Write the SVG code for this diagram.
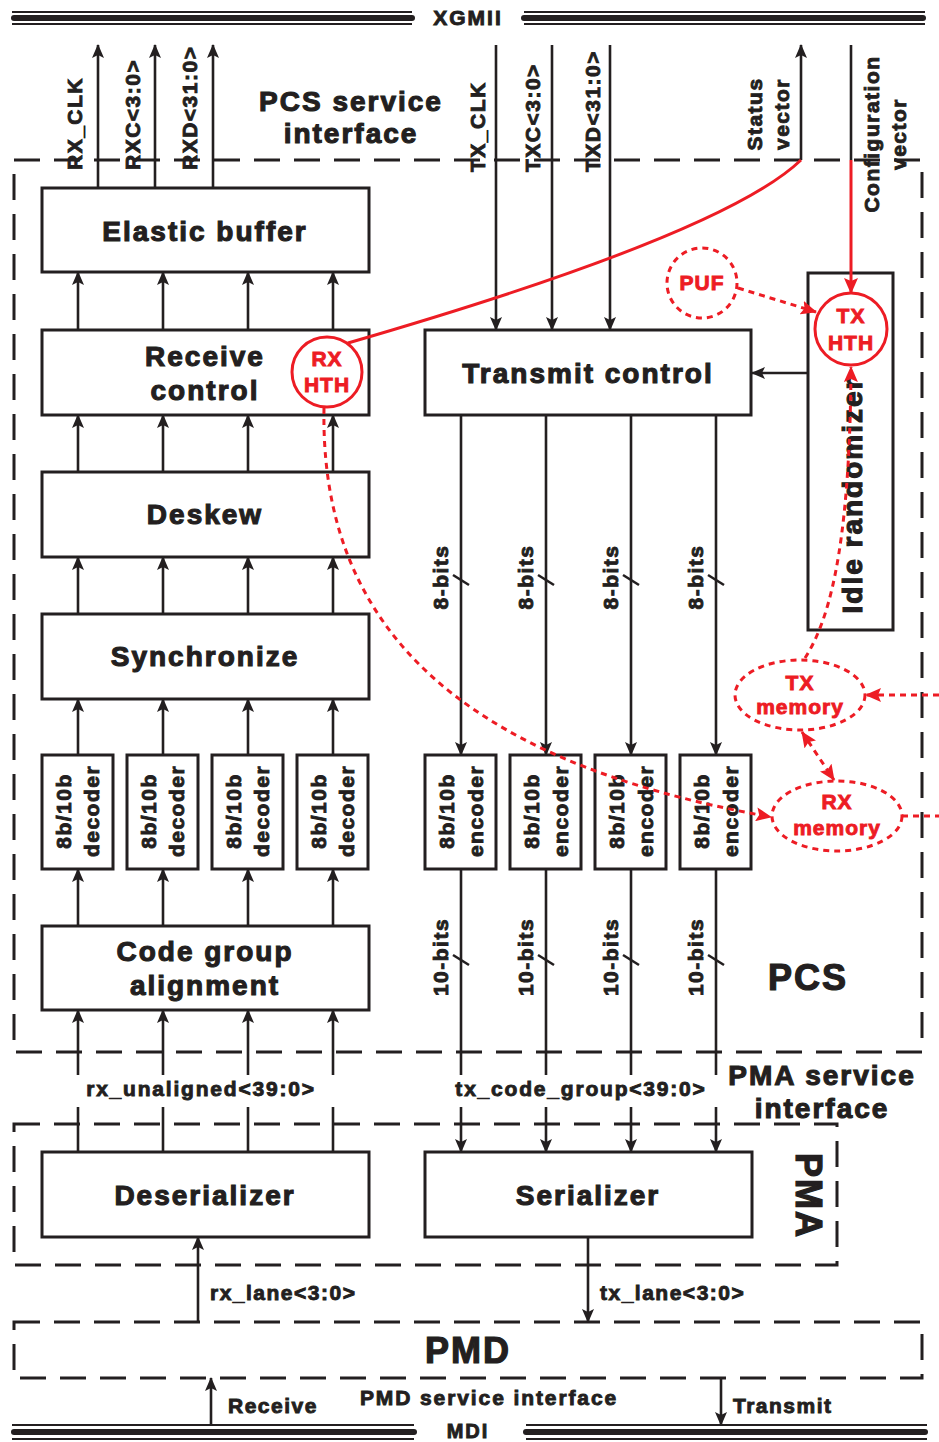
<svg xmlns="http://www.w3.org/2000/svg" width="939" height="1442" viewBox="0 0 939 1442">
<style>
.t{font-family:"Liberation Sans",Arial,sans-serif;font-weight:bold;fill:#231f20;stroke:#231f20;stroke-width:0.9;letter-spacing:2px}
.b{font-size:28px;text-anchor:middle;stroke-width:1.1}
.s{font-size:21px;letter-spacing:1.5px}
.r{fill:#ed1c24;stroke:#ed1c24}
.box{fill:#fff;stroke:#231f20;stroke-width:3}
.ln{stroke:#231f20;stroke-width:2.6;fill:none}
.dash{fill:none;stroke:#231f20;stroke-width:3;stroke-dasharray:26 14}
.rl{stroke:#ed1c24;stroke-width:3;fill:none}
.rd{stroke:#ed1c24;stroke-width:3;fill:none;stroke-dasharray:6 5}
.bus{stroke:#231f20;stroke-width:2}
.busk{stroke:#231f20;stroke-width:6;stroke-linecap:round}
</style>
<defs>
<marker id="ah" viewBox="0 0 14 12" refX="13" refY="6" markerWidth="14" markerHeight="12" markerUnits="userSpaceOnUse" orient="auto"><path d="M0,0 L14,6 L0,12 L3,6 z" fill="#231f20"/></marker>
<marker id="rh" viewBox="0 0 16 14" refX="15" refY="7" markerWidth="16" markerHeight="14" markerUnits="userSpaceOnUse" orient="auto"><path d="M0,0 L16,7 L0,14 L3,7 z" fill="#ed1c24"/></marker>
<marker id="rs" viewBox="0 0 16 14" refX="1" refY="7" markerWidth="16" markerHeight="14" markerUnits="userSpaceOnUse" orient="auto"><path d="M16,0 L0,7 L16,14 L13,7 z" fill="#ed1c24"/></marker>
</defs>
<rect width="939" height="1442" fill="#fff"/>

<!-- buses -->
<g id="xgmii">
<line class="bus" x1="12" y1="12" x2="412" y2="12"/><line class="busk" x1="14" y1="18" x2="412" y2="18"/><line class="bus" x1="12" y1="24" x2="412" y2="24"/>
<line class="bus" x1="524" y1="12" x2="925" y2="12"/><line class="busk" x1="524" y1="18" x2="923" y2="18"/><line class="bus" x1="524" y1="24" x2="925" y2="24"/>
<text class="t" x="468" y="25" font-size="21" text-anchor="middle">XGMII</text>
</g>
<g id="mdi">
<line class="bus" x1="12" y1="1425" x2="414" y2="1425"/><line class="busk" x1="14" y1="1432" x2="414" y2="1432"/><line class="bus" x1="12" y1="1439" x2="414" y2="1439"/>
<line class="bus" x1="526" y1="1425" x2="927" y2="1425"/><line class="busk" x1="526" y1="1432" x2="925" y2="1432"/><line class="bus" x1="526" y1="1439" x2="927" y2="1439"/>
<text class="t" x="468" y="1438" font-size="20" text-anchor="middle">MDI</text>
</g>

<!-- layer boundaries -->
<g id="pcs">
<rect class="dash" x="14" y="160" width="908" height="892"/>
<text class="t" x="808" y="990" font-size="36" text-anchor="middle" style="stroke-width:1.2">PCS</text>
</g>
<g id="pma">
<rect class="dash" x="14" y="1124" width="823" height="141"/>
<text class="t" transform="translate(796,1196) rotate(90)" font-size="36" text-anchor="middle" style="stroke-width:1.2">PMA</text>
</g>
<g id="pmd">
<rect class="dash" x="14" y="1322" width="908" height="56"/>
<text class="t" x="468" y="1363" font-size="36" text-anchor="middle" style="stroke-width:1.2">PMD</text>
</g>

<!-- connectors -->
<g id="connectors">
<g class="ln" marker-end="url(#ah)">
<line x1="98" y1="188" x2="98" y2="45"/><line x1="155" y1="188" x2="155" y2="45"/><line x1="213" y1="188" x2="213" y2="45"/>
<line x1="78" y1="330" x2="78" y2="272"/><line x1="163" y1="330" x2="163" y2="272"/><line x1="248" y1="330" x2="248" y2="272"/><line x1="333" y1="330" x2="333" y2="272"/>
<line x1="78" y1="472" x2="78" y2="415"/><line x1="163" y1="472" x2="163" y2="415"/><line x1="248" y1="472" x2="248" y2="415"/><line x1="333" y1="472" x2="333" y2="415"/>
<line x1="78" y1="614" x2="78" y2="557"/><line x1="163" y1="614" x2="163" y2="557"/><line x1="248" y1="614" x2="248" y2="557"/><line x1="333" y1="614" x2="333" y2="557"/>
<line x1="78" y1="755" x2="78" y2="699"/><line x1="163" y1="755" x2="163" y2="699"/><line x1="248" y1="755" x2="248" y2="699"/><line x1="333" y1="755" x2="333" y2="699"/>
<line x1="78" y1="926" x2="78" y2="869"/><line x1="163" y1="926" x2="163" y2="869"/><line x1="248" y1="926" x2="248" y2="869"/><line x1="333" y1="926" x2="333" y2="869"/>
<line x1="78" y1="1075" x2="78" y2="1010"/><line x1="163" y1="1075" x2="163" y2="1010"/><line x1="248" y1="1075" x2="248" y2="1010"/><line x1="333" y1="1075" x2="333" y2="1010"/>
<line x1="496" y1="45" x2="496" y2="330"/><line x1="552" y1="45" x2="552" y2="330"/><line x1="610" y1="45" x2="610" y2="330"/>
<line x1="461" y1="415" x2="461" y2="755"/><line x1="546" y1="415" x2="546" y2="755"/><line x1="631" y1="415" x2="631" y2="755"/><line x1="716" y1="415" x2="716" y2="755"/>
<line x1="461" y1="1107" x2="461" y2="1152"/><line x1="546" y1="1107" x2="546" y2="1152"/><line x1="631" y1="1107" x2="631" y2="1152"/><line x1="716" y1="1107" x2="716" y2="1152"/>
<line x1="808" y1="373" x2="752" y2="373"/>
<line x1="801" y1="160" x2="801" y2="45"/>
<line x1="588" y1="1237" x2="588" y2="1322"/>
<line x1="198" y1="1322" x2="198" y2="1237"/>
<line x1="211" y1="1425" x2="211" y2="1378"/>
<line x1="721" y1="1378" x2="721" y2="1425"/>
</g>
<g class="ln">
<line x1="78" y1="1152" x2="78" y2="1107"/><line x1="163" y1="1152" x2="163" y2="1107"/><line x1="248" y1="1152" x2="248" y2="1107"/><line x1="333" y1="1152" x2="333" y2="1107"/>
<line x1="461" y1="869" x2="461" y2="1075"/><line x1="546" y1="869" x2="546" y2="1075"/><line x1="631" y1="869" x2="631" y2="1075"/><line x1="716" y1="869" x2="716" y2="1075"/>
<line x1="851" y1="45" x2="851" y2="160"/>
<line x1="453" y1="575" x2="469" y2="585"/><line x1="538" y1="575" x2="554" y2="585"/><line x1="623" y1="575" x2="639" y2="585"/><line x1="708" y1="575" x2="724" y2="585"/>
<line x1="453" y1="955" x2="469" y2="965"/><line x1="538" y1="955" x2="554" y2="965"/><line x1="623" y1="955" x2="639" y2="965"/><line x1="708" y1="955" x2="724" y2="965"/>
</g>
</g>

<!-- labels -->
<g id="labels">
<text class="t s" transform="translate(82,170) rotate(-90)">RX_CLK</text>
<text class="t s" transform="translate(140,170) rotate(-90)">RXC&lt;3:0&gt;</text>
<text class="t s" transform="translate(197,170) rotate(-90)">RXD&lt;31:0&gt;</text>
<text class="t s" transform="translate(485,172) rotate(-90)">TX_CLK</text>
<text class="t s" transform="translate(540,172) rotate(-90)">TXC&lt;3:0&gt;</text>
<text class="t s" transform="translate(600,172) rotate(-90)">TXD&lt;31:0&gt;</text>
<text class="t s" transform="translate(762,114) rotate(-90)" text-anchor="middle">Status</text>
<text class="t s" transform="translate(789,114) rotate(-90)" text-anchor="middle">vector</text>
<text class="t s" transform="translate(879,134) rotate(-90)" text-anchor="middle">Configuration</text>
<text class="t s" transform="translate(906,134) rotate(-90)" text-anchor="middle">vector</text>
<text class="t b" x="351" y="111">PCS service</text>
<text class="t b" x="351" y="143">interface</text>
<text class="t b" x="822" y="1085">PMA service</text>
<text class="t b" x="822" y="1118">interface</text>
<text class="t s" x="201" y="1096" text-anchor="middle" style="letter-spacing:1.8px">rx_unaligned&lt;39:0&gt;</text>
<text class="t s" x="581" y="1096" text-anchor="middle" style="letter-spacing:1.8px">tx_code_group&lt;39:0&gt;</text>
<text class="t s" x="210" y="1300">rx_lane&lt;3:0&gt;</text>
<text class="t s" x="600" y="1300">tx_lane&lt;3:0&gt;</text>
<text class="t s" x="228" y="1413">Receive</text>
<text class="t s" x="489" y="1405" text-anchor="middle" style="letter-spacing:1.9px">PMD service interface</text>
<text class="t s" x="733" y="1413">Transmit</text>
<text class="t s" transform="translate(448,577) rotate(-90)" text-anchor="middle">8-bits</text>
<text class="t s" transform="translate(533,577) rotate(-90)" text-anchor="middle">8-bits</text>
<text class="t s" transform="translate(618,577) rotate(-90)" text-anchor="middle">8-bits</text>
<text class="t s" transform="translate(703,577) rotate(-90)" text-anchor="middle">8-bits</text>
<text class="t s" transform="translate(448,957) rotate(-90)" text-anchor="middle">10-bits</text>
<text class="t s" transform="translate(533,957) rotate(-90)" text-anchor="middle">10-bits</text>
<text class="t s" transform="translate(618,957) rotate(-90)" text-anchor="middle">10-bits</text>
<text class="t s" transform="translate(703,957) rotate(-90)" text-anchor="middle">10-bits</text>
</g>

<!-- nodes -->
<g id="elastic-buffer"><rect class="box" x="42" y="188" width="327" height="84"/><text class="t b" x="205" y="241">Elastic buffer</text></g>
<g id="receive-control"><rect class="box" x="42" y="330" width="327" height="85"/><text class="t b" x="205" y="366">Receive</text><text class="t b" x="205" y="400">control</text></g>
<g id="deskew"><rect class="box" x="42" y="472" width="327" height="85"/><text class="t b" x="205" y="524">Deskew</text></g>
<g id="synchronize"><rect class="box" x="42" y="614" width="327" height="85"/><text class="t b" x="205" y="666">Synchronize</text></g>
<g id="decoder1"><rect class="box" x="42" y="755" width="71" height="114"/><text class="t s" transform="translate(71,811) rotate(-90)" text-anchor="middle">8b/10b</text><text class="t s" transform="translate(99,811) rotate(-90)" text-anchor="middle">decoder</text></g>
<g id="decoder2"><rect class="box" x="127" y="755" width="71" height="114"/><text class="t s" transform="translate(156,811) rotate(-90)" text-anchor="middle">8b/10b</text><text class="t s" transform="translate(184,811) rotate(-90)" text-anchor="middle">decoder</text></g>
<g id="decoder3"><rect class="box" x="212" y="755" width="71" height="114"/><text class="t s" transform="translate(241,811) rotate(-90)" text-anchor="middle">8b/10b</text><text class="t s" transform="translate(269,811) rotate(-90)" text-anchor="middle">decoder</text></g>
<g id="decoder4"><rect class="box" x="297" y="755" width="71" height="114"/><text class="t s" transform="translate(326,811) rotate(-90)" text-anchor="middle">8b/10b</text><text class="t s" transform="translate(354,811) rotate(-90)" text-anchor="middle">decoder</text></g>
<g id="code-group-alignment"><rect class="box" x="42" y="926" width="327" height="84"/><text class="t b" x="205" y="961">Code group</text><text class="t b" x="205" y="995">alignment</text></g>
<g id="transmit-control"><rect class="box" x="425" y="330" width="326" height="85"/><text class="t b" x="588" y="383">Transmit control</text></g>
<g id="encoder1"><rect class="box" x="425" y="755" width="71" height="114"/><text class="t s" transform="translate(454,811) rotate(-90)" text-anchor="middle">8b/10b</text><text class="t s" transform="translate(483,811) rotate(-90)" text-anchor="middle">encoder</text></g>
<g id="encoder2"><rect class="box" x="510" y="755" width="71" height="114"/><text class="t s" transform="translate(539,811) rotate(-90)" text-anchor="middle">8b/10b</text><text class="t s" transform="translate(568,811) rotate(-90)" text-anchor="middle">encoder</text></g>
<g id="encoder3"><rect class="box" x="595" y="755" width="71" height="114"/><text class="t s" transform="translate(624,811) rotate(-90)" text-anchor="middle">8b/10b</text><text class="t s" transform="translate(653,811) rotate(-90)" text-anchor="middle">encoder</text></g>
<g id="encoder4"><rect class="box" x="680" y="755" width="71" height="114"/><text class="t s" transform="translate(709,811) rotate(-90)" text-anchor="middle">8b/10b</text><text class="t s" transform="translate(738,811) rotate(-90)" text-anchor="middle">encoder</text></g>
<g id="idle-randomizer"><rect class="box" x="808" y="273" width="85" height="357" style="fill:none"/><text class="t b" transform="translate(862,495) rotate(-90)">Idle randomizer</text></g>
<g id="deserializer"><rect class="box" x="42" y="1152" width="327" height="85"/><text class="t b" x="205" y="1205">Deserializer</text></g>
<g id="serializer"><rect class="box" x="425" y="1152" width="327" height="85"/><text class="t b" x="588" y="1205">Serializer</text></g>

<!-- security connectors (drawn over the blocks) -->
<g id="security-connectors">
<path class="rl" d="M801,160 Q724,234 348,343"/>
<line class="rl" x1="851" y1="160" x2="851" y2="293" marker-end="url(#rh)"/>
<line class="rd" x1="738" y1="288" x2="816" y2="312" marker-end="url(#rh)"/>
<path class="rd" d="M805,658 C826,625 850,560 851,367" marker-end="url(#rh)"/>
<path class="rd" d="M324,408 C320,620 450,760 771,817" marker-end="url(#rh)"/>
<line class="rd" x1="802" y1="732" x2="834" y2="780" marker-start="url(#rs)" marker-end="url(#rh)"/>
<line class="rd" x1="939" y1="695" x2="866" y2="695" marker-end="url(#rh)"/>
<line class="rd" x1="902" y1="816" x2="939" y2="816"/>
</g>

<!-- security blocks -->
<g id="rx-hth"><circle cx="327" cy="372" r="35" fill="#fff" stroke="#ed1c24" stroke-width="3"/><text class="t r" x="327" y="366" font-size="21" text-anchor="middle" style="letter-spacing:1px">RX</text><text class="t r" x="327" y="392" font-size="21" text-anchor="middle" style="letter-spacing:1px">HTH</text></g>
<g id="tx-hth"><circle cx="851" cy="329" r="36" fill="#fff" stroke="#ed1c24" stroke-width="3"/><text class="t r" x="851" y="323" font-size="21" text-anchor="middle" style="letter-spacing:1px">TX</text><text class="t r" x="851" y="350" font-size="21" text-anchor="middle" style="letter-spacing:1px">HTH</text></g>
<g id="puf"><circle class="rd" cx="702" cy="283" r="35"/><text class="t r" x="702" y="290" font-size="21" text-anchor="middle" style="letter-spacing:1px">PUF</text></g>
<g id="tx-memory"><ellipse class="rd" cx="800" cy="695" rx="65" ry="35"/><text class="t r" x="800" y="690" font-size="21" text-anchor="middle" style="letter-spacing:1px">TX</text><text class="t r" x="800" y="714" font-size="21" text-anchor="middle" style="letter-spacing:1px">memory</text></g>
<g id="rx-memory"><ellipse class="rd" cx="837" cy="816" rx="65" ry="35"/><text class="t r" x="837" y="809" font-size="21" text-anchor="middle" style="letter-spacing:1px">RX</text><text class="t r" x="837" y="835" font-size="21" text-anchor="middle" style="letter-spacing:1px">memory</text></g>
</svg>
